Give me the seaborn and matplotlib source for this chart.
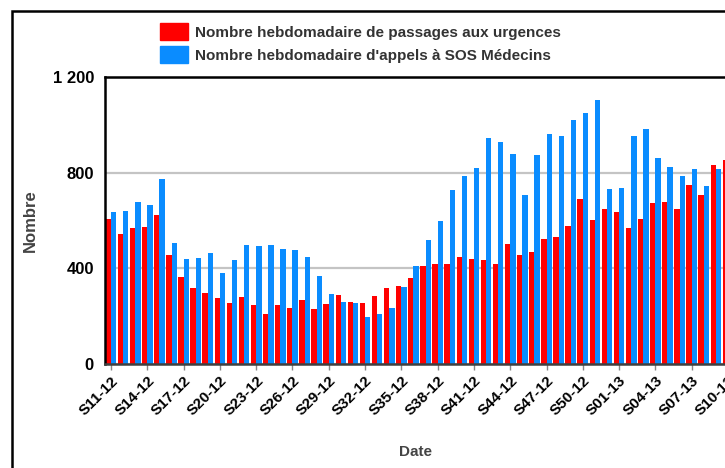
import numpy as np
import pandas as pd
import matplotlib
matplotlib.use("Agg")
import matplotlib.pyplot as plt
import matplotlib.patches as mpatches
import seaborn as sns

# weeks S11-12 .. S10-13
weeks = ["S%02d-12" % w for w in range(11, 53)] + ["S%02d-13" % w for w in range(1, 11)]

# weekly emergency visits (red)
urgences = [608, 542, 570, 574, 622, 456, 364, 317, 296, 275,
            254, 279, 248, 208, 246, 233, 267, 229, 250, 288,
            258, 254, 284, 317, 326, 359, 410, 418, 418, 448,
            439, 435, 418, 503, 456, 469, 524, 532, 578, 688,
            604, 650, 637, 570, 608, 675, 679, 650, 747, 705,
            831, 852]

# weekly SOS Medecins calls (blue), last week off-picture
sos = [636, 641, 679, 664, 772, 504, 439, 444, 466, 380,
       435, 498, 494, 497, 481, 477, 448, 368, 292, 258,
       254, 195, 211, 233, 321, 410, 518, 599, 726, 785,
       818, 947, 928, 877, 705, 873, 961, 953, 1020, 1050,
       1105, 730, 734, 953, 983, 860, 823, 785, 814, 743,
       814, np.nan]

lab_urg = "Nombre hebdomadaire de passages aux urgences"
lab_sos = "Nombre hebdomadaire d'appels à SOS Médecins"
colors = {lab_urg: "#ff0000", lab_sos: "#0a8cff"}

df = pd.concat([
    pd.DataFrame({"Date": weeks, "serie": lab_urg, "Nombre": urgences}),
    pd.DataFrame({"Date": weeks, "serie": lab_sos, "Nombre": sos}),
], ignore_index=True)

plt.rcParams["font.family"] = ["Liberation Sans", "DejaVu Sans"]

W, H = 725, 468
fig = plt.figure(figsize=(W / 100, H / 100), dpi=100)
# axes runs past the right edge like the cropped original
ax = fig.add_axes([105 / W, (H - 364) / H, 629 / W, 287 / H])

sns.barplot(data=df, x="Date", y="Nombre", hue="serie", order=weeks,
            hue_order=[lab_urg, lab_sos], palette=colors, saturation=1,
            width=0.88, errorbar=None, linewidth=0, legend=False, ax=ax)

ax.set_xlim(-0.5, len(weeks) - 0.5)
ax.set_ylim(0, 1200)
ax.set_yticks([0, 400, 800, 1200])
ax.set_yticklabels(["0", "400", "800", "1 200"], fontsize=12, fontweight="bold")
ax.set_xticks(range(0, len(weeks), 3))
ax.set_xticklabels(weeks[::3], rotation=45, ha="right", rotation_mode="anchor",
                   fontsize=11, fontweight="bold")
ax.tick_params(axis="y", length=0, pad=8)
ax.tick_params(axis="x", length=4, width=1, color="#888888", pad=3)

ax.yaxis.grid(True, color="#c4c4c4", linewidth=1.6)
ax.set_axisbelow(True)
for s in ["left", "top"]:
    ax.spines[s].set_color("black")
    ax.spines[s].set_linewidth(1.8)
ax.spines["bottom"].set_color("#404040")
ax.spines["bottom"].set_linewidth(1.8)
ax.spines["right"].set_visible(False)

ax.set_xlabel("Date", fontsize=11, fontweight="bold", color="#444444")
ax.set_ylabel("Nombre", fontsize=12, fontweight="bold", color="#444444")
ax.xaxis.set_label_coords((415 - 105) / 629, -(452 - 364) / 287)
ax.xaxis.label.set_va("center")
ax.yaxis.set_label_coords((30 - 105) / 629, 0.5)
ax.yaxis.label.set_va("center")

handles = [mpatches.Patch(color=colors[lab_urg]), mpatches.Patch(color=colors[lab_sos])]
fig.legend(handles, [lab_urg, lab_sos], loc="upper left",
           bbox_to_anchor=(160 / W, 1 - 23 / H), frameon=False,
           borderpad=0, borderaxespad=0, handlelength=1.85, handleheight=1.35,
           handletextpad=0.45, labelspacing=0.4,
           prop={"size": 11, "weight": "bold"}, labelcolor="#333333")

# outer frame, cropped on the right and bottom
fig.patches.append(mpatches.Rectangle((12 / W, -0.1), 1.2, 1.1 - 11 / H,
                                      transform=fig.transFigure, fill=False,
                                      edgecolor="black", linewidth=1.8, clip_on=False))

fig.savefig("out.png", dpi=100)
